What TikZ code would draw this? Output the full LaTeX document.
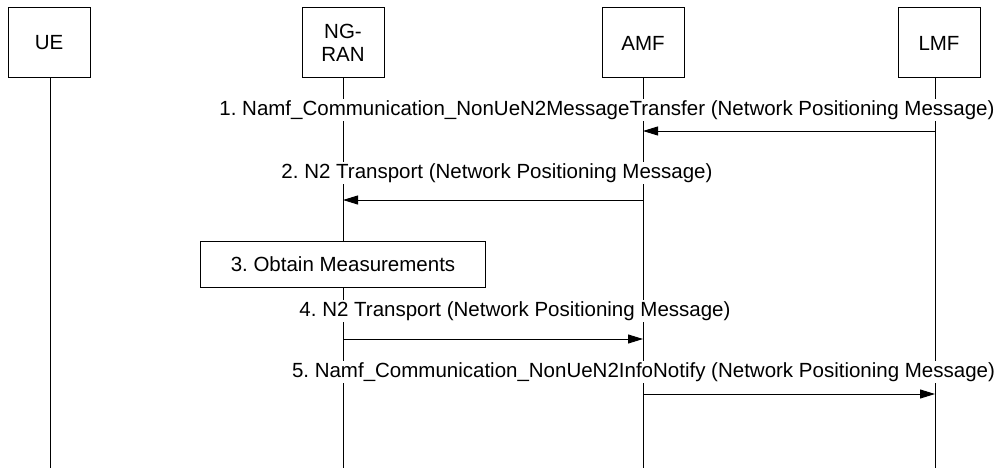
\documentclass[tikz,border=0pt]{standalone}
\usepackage{fontspec}
\setmainfont{Liberation Sans}
\usetikzlibrary{arrows.meta}
\frenchspacing

\tikzset{
  entity/.style={draw, line width=1pt, minimum width=82pt, minimum height=70pt, align=center, inner sep=0pt},
  life/.style={line width=1pt},
  msg/.style={fill=white, inner sep=1pt},
  call/.style={line width=1pt, -{Triangle[length=15pt,width=9pt]}},
  actionbox/.style={draw, fill=white, line width=1pt, minimum width=285pt, minimum height=46pt, inner sep=0pt}
}

\begin{document}
\begin{tikzpicture}[x=1pt,y=-1pt,font=\fontsize{20.5}{23.5}\selectfont]
	\useasboundingbox (0,0) rectangle (1000,468);
	% entities
	\node[entity] (ue) at (49,43) {UE};
	\node[entity] (ngran) at (343,43) {NG-\\RAN};
	\node[entity] (amf) at (643,43) {AMF};
	\node[entity] (lmf) at (939,43) {LMF};
	% lifelines
	\coordinate (ueEnd) at (50,468);
	\coordinate (ngranEnd) at (343,468);
	\coordinate (amfEnd) at (643,468);
	\coordinate (lmfEnd) at (935,468);
	\draw[life] (ue.south -| ueEnd) -- (ueEnd);
	\draw[life] (ngran.south) -- (ngranEnd);
	\draw[life] (amf.south) -- (amfEnd);
	\draw[life] (lmf.south -| lmfEnd) -- (lmfEnd);
	% messages
	\node[msg] (m1) at (607,110) {1. Namf\_Communication\_NonUeN2MessageTransfer (Network Positioning Message)};
	\node[msg] (m2) at (497,173) {2. N2 Transport (Network Positioning Message)};
	\node[actionbox] (obtain) at (343,264) {3. Obtain Measurements};
	\node[msg] (m4) at (515,311) {4. N2 Transport (Network Positioning Message)};
	\node[msg] (m5) at (643.5,372) {5. Namf\_Communication\_NonUeN2InfoNotify (Network Positioning Message)};
	\coordinate (lmf1) at (935,131);
	\coordinate (amf1) at (643,131);
	\coordinate (amf2) at (643,200);
	\coordinate (ngran2) at (343,200);
	\coordinate (ngran4) at (343,339);
	\coordinate (amf4) at (643,339);
	\coordinate (amf5) at (643,394);
	\coordinate (lmf5) at (935,394);
	\draw[call] (lmf1) -- (amf1);
	\draw[call] (amf2) -- (ngran2);
	\draw[call] (ngran4) -- (amf4);
	\draw[call] (amf5) -- (lmf5);
\end{tikzpicture}
\end{document}
